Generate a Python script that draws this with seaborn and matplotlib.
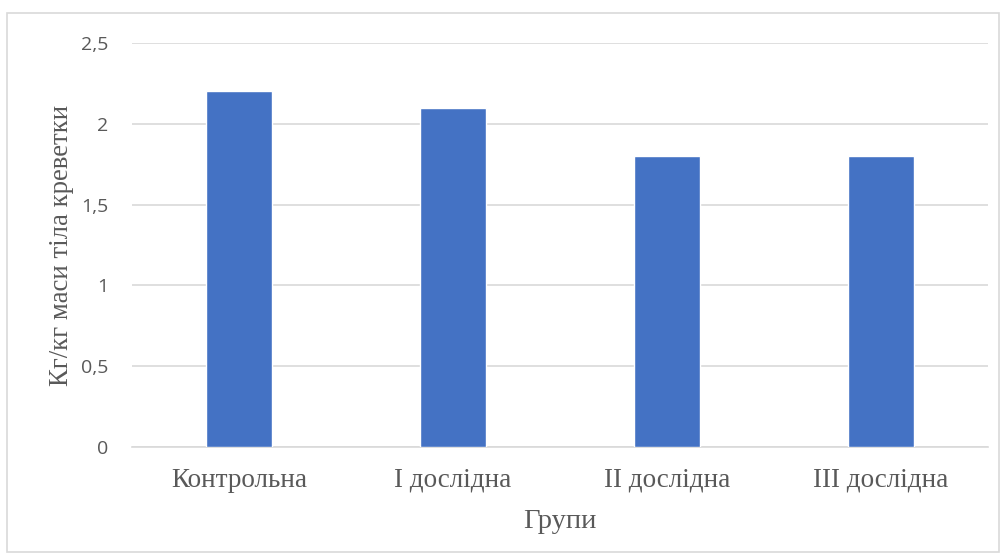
import matplotlib
matplotlib.use("Agg")
import matplotlib.pyplot as plt
import seaborn as sns
import pandas as pd
from matplotlib.patches import Rectangle

categories = ["Контрольна", "I дослідна", "II дослідна", "III дослідна"]
values = [2.2, 2.1, 1.8, 1.8]
yticks = [0, 0.5, 1, 1.5, 2, 2.5]
ytick_labels = ["0", "0,5", "1", "1,5", "2", "2,5"]

sns.set_style("white")
plt.rcParams['font.family'] = ['Liberation Serif', 'DejaVu Serif']

df = pd.DataFrame({"group": categories, "value": values})

W, H = 1003, 554
fig = plt.figure(figsize=(W/100, H/100), dpi=100)
ax = fig.add_axes([132/W, 1-447/H, (988-132)/W, (447-43)/H])

sns.barplot(data=df, x="group", y="value", color="#4472C4", width=0.313,
            saturation=1, ax=ax, zorder=3)

ax.set_ylim(0, 2.5)
ax.set_yticks(yticks)
ax.set_yticklabels(ytick_labels, family=['Open Sans', 'DejaVu Sans'],
                   fontsize=14, color="#595959")
ax.tick_params(axis='y', length=0, pad=17)
ax.tick_params(axis='x', length=0, pad=15, labelsize=19.5, labelcolor="#595959")
ax.set_xlim(-0.5, 3.5)
ax.grid(axis='y', color="#D9D9D9", linewidth=1.2, zorder=0)
for s in ["top", "right", "left"]:
    ax.spines[s].set_visible(False)
ax.spines["bottom"].set_color("#D9D9D9")
ax.spines["bottom"].set_linewidth(1.2)

ax.set_xlabel("Групи", fontsize=20.5, color="#595959", labelpad=12)
ax.set_ylabel("Кг/кг маси тіла креветки", fontsize=19.3, color="#595959", labelpad=5)

fig.patches.append(Rectangle((7/W, 1-552/H), (999-7)/W, (552-13)/H,
                             transform=fig.transFigure, fill=False,
                             edgecolor="#D9D9D9", linewidth=1.2))

fig.savefig("out.png", dpi=100)
